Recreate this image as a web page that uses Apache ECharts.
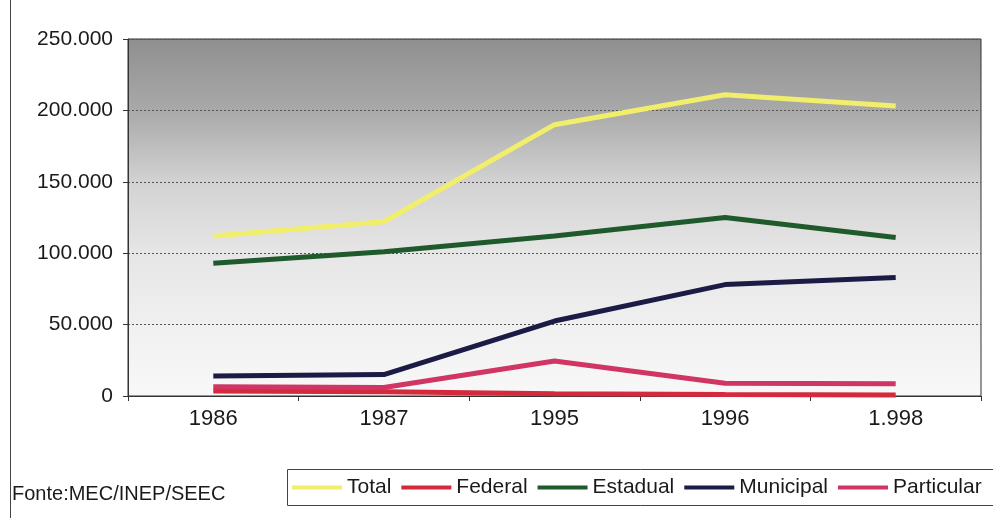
<!DOCTYPE html>
<html>
<head>
<meta charset="utf-8">
<script src="https://cdn.jsdelivr.net/npm/echarts@6/dist/echarts.min.js"></script>
<style>
  html, body { margin: 0; padding: 0; background: #ffffff; }
  #chart { width: 993px; height: 518px; }
</style>
</head>
<body>
<div id="chart"></div>
<script>
// Enrollment by administrative network (Brazil)
const years = ['1986', '1987', '1995', '1996', '1.998'];
const total = [112000, 122000, 190000, 211000, 203000];
const federal = [3500, 3000, 1500, 1000, 700];
const estadual = [93000, 101000, 112000, 125000, 111000];
const municipal = [14000, 15000, 52500, 78000, 83000];
const particular = [6500, 6000, 24500, 9000, 8500];
const yTicks = [0, 50000, 100000, 150000, 200000, 250000];

const seriesDefs = [
  { name: 'Total', data: total, color: '#f1ee6c' },
  { name: 'Federal', data: federal, color: '#d32a3d' },
  { name: 'Estadual', data: estadual, color: '#1f5a2c' },
  { name: 'Municipal', data: municipal, color: '#1b1b46' },
  { name: 'Particular', data: particular, color: '#d13563' }
];

function fmtThousands(v) {
  if (v === 0) return '0';
  return String(v).replace(/\B(?=(\d{3})+(?!\d))/g, '.');
}

const chart = echarts.init(document.getElementById('chart'), null, { renderer: 'canvas' });

chart.setOption({
  animation: false,
  textStyle: { fontFamily: '"Liberation Sans", Arial, sans-serif' },
  grid: {
    left: 128, right: 12, top: 39, bottom: 122,
    show: true,
    borderColor: '#333333',
    borderWidth: 1,
    backgroundColor: new echarts.graphic.LinearGradient(0, 0, 0, 1, [
      { offset: 0, color: '#8f8f8f' },
      { offset: 0.2, color: '#a9a9a9' },
      { offset: 0.4, color: '#d2d2d2' },
      { offset: 0.6, color: '#e6e6e6' },
      { offset: 0.8, color: '#f0f0f0' },
      { offset: 1, color: '#f8f8f8' }
    ])
  },
  xAxis: {
    type: 'category',
    data: years,
    boundaryGap: true,
    axisLine: { lineStyle: { color: '#333333', width: 1 } },
    axisTick: { show: true, length: 5, inside: false, lineStyle: { color: '#333333' } },
    axisLabel: { color: '#1a1a1a', fontSize: 22, margin: 12 }
  },
  yAxis: {
    type: 'value',
    min: yTicks[0],
    max: yTicks[yTicks.length - 1],
    interval: yTicks[1] - yTicks[0],
    axisLine: { show: true, lineStyle: { color: '#333333', width: 1 } },
    axisTick: { show: true, length: 5, lineStyle: { color: '#333333' } },
    axisLabel: { color: '#1a1a1a', fontSize: 21, margin: 15, formatter: fmtThousands },
    splitLine: { show: true, lineStyle: { color: '#555555', type: [2, 2], width: 1 } }
  },
  legend: {
    left: 292,
    top: 477,
    icon: 'rect',
    itemWidth: 50,
    itemHeight: 4,
    itemGap: 10,
    padding: 0,
    textStyle: { color: '#1a1a1a', fontSize: 21, padding: [0, 0, 0, 0] },
    data: seriesDefs.map(s => s.name)
  },
  graphic: [
    { type: 'line', shape: { x1: 10.5, y1: 0, x2: 10.5, y2: 518 }, style: { stroke: '#444444', lineWidth: 1 } },
    { type: 'rect', shape: { x: 287.5, y: 469.5, width: 720, height: 36 }, style: { fill: 'none', stroke: '#444444', lineWidth: 1 } },
    { type: 'text', left: 12, top: 484, style: { text: 'Fonte:MEC/INEP/SEEC', fontSize: 20, fill: '#1a1a1a', fontFamily: '"Liberation Sans", Arial, sans-serif' } }
  ],
  series: seriesDefs.map(s => ({
    name: s.name,
    type: 'line',
    data: s.data,
    showSymbol: false,
    symbol: 'none',
    lineStyle: { color: s.color, width: 5 },
    itemStyle: { color: s.color }
  }))
});
</script>
</body>
</html>
